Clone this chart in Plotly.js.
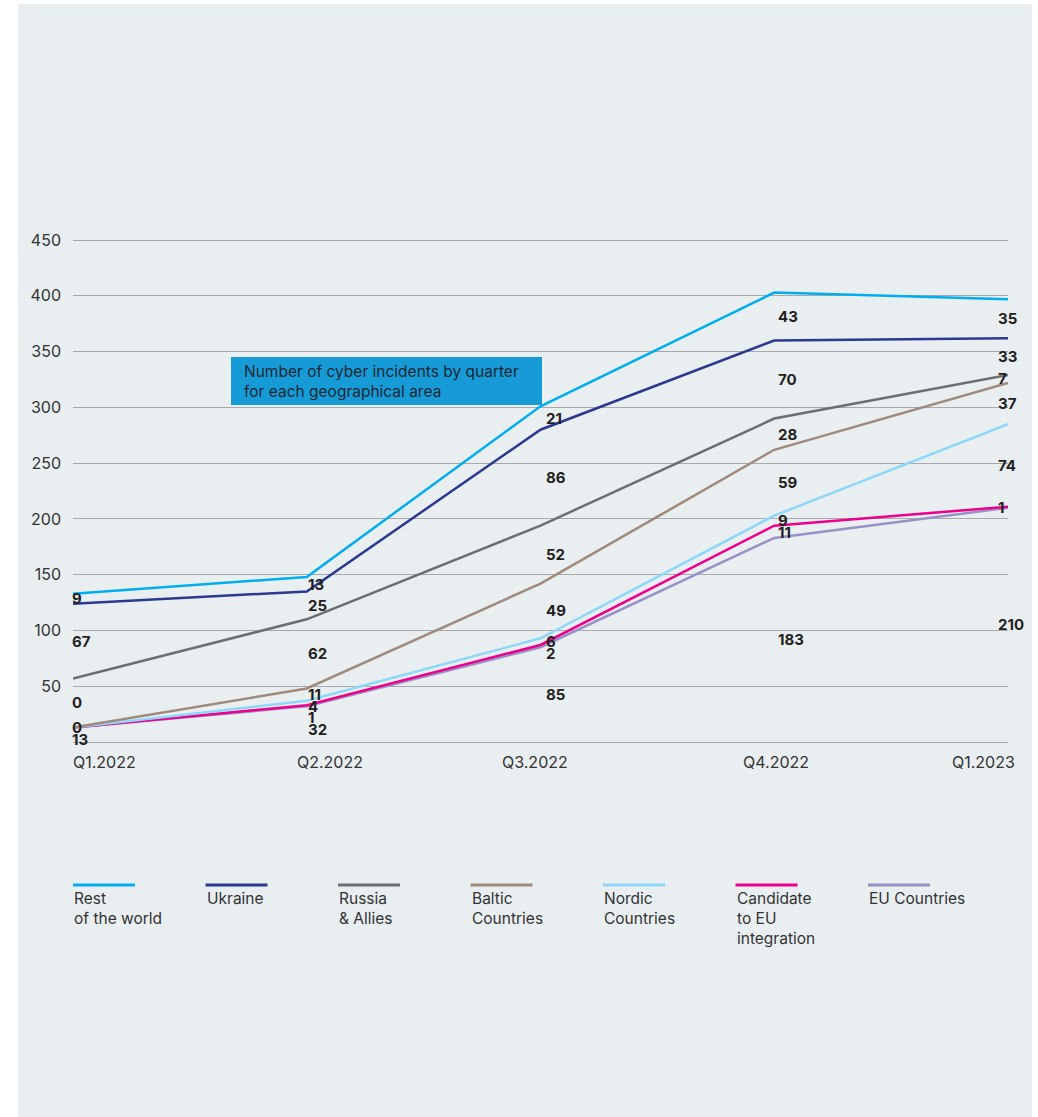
<!DOCTYPE html>
<html><head><meta charset="utf-8">
<script src="https://cdn.plot.ly/plotly-3.0.1.min.js"></script>
<style>
html,body{margin:0;padding:0;background:#ffffff;}
#panel{position:absolute;left:18px;top:4px;width:1014px;height:1113px;background:#e9eef1;}
#chart{position:absolute;left:0;top:0;width:1038px;height:1117px;}
</style></head><body>
<div id="panel"></div><div id="chart"></div>
<script>
// ---- data ----
const quarters = ['Q1.2022', 'Q2.2022', 'Q3.2022', 'Q4.2022', 'Q1.2023'];
const yTicks = [50, 100, 150, 200, 250, 300, 350, 400, 450];

// incidents per area and quarter (stacked bottom -> top)
const euCountries   = [13, 32, 85, 183, 210];
const candidateEU   = [0, 1, 2, 11, 1];
const nordic        = [0, 4, 6, 9, 74];
const baltic        = [0, 11, 49, 59, 37];
const russiaAllies  = [44, 62, 52, 28, 7];
const ukraine       = [67, 25, 86, 70, 33];
const restOfWorld   = [9, 13, 21, 43, 35];

const seriesNames = ['EU Countries', 'Candidate to EU integration', 'Nordic Countries',
  'Baltic Countries', 'Russia & Allies', 'Ukraine', 'Rest of the world'];
const legendOrder = ['Rest of the world', 'Ukraine', 'Russia & Allies', 'Baltic Countries',
  'Nordic Countries', 'Candidate to EU integration', 'EU Countries'];
const legendText = {
  'Rest of the world': 'Rest<br>of the world',
  'Ukraine': 'Ukraine',
  'Russia & Allies': 'Russia<br>&amp; Allies',
  'Baltic Countries': 'Baltic<br>Countries',
  'Nordic Countries': 'Nordic<br>Countries',
  'Candidate to EU integration': 'Candidate<br>to EU<br>integration',
  'EU Countries': 'EU Countries'
};
// labels as printed in the source (overrides / hidden overlapping labels)
const printedLabels = {'Russia & Allies': {0: '0'}};
const hiddenLabels = {'Nordic Countries': [0], 'Candidate to EU integration': [0]};
const chartTitle = 'Number of cyber incidents by quarter<br>for each geographical area';

// ---- styles ----
const seriesValues = [euCountries, candidateEU, nordic, baltic, russiaAllies, ukraine, restOfWorld];
const colors = {
  'Rest of the world': '#00aeef',
  'Ukraine': '#2b3990',
  'Russia & Allies': '#6d6e71',
  'Baltic Countries': '#a08a7c',
  'Nordic Countries': '#8dd8f8',
  'Candidate to EU integration': '#ec008c',
  'EU Countries': '#9891c6'
};
const FONT = 'Inter, "Open Sans", sans-serif';
const W = 1038, H = 1117;
const M = {l: 73, r: 30, t: 239, b: 375};
const plotW = W - M.l - M.r, plotH = H - M.t - M.b;
const yMax = 451;
const unitPx = plotH / yMax;
const px2paperX = px => (px - M.l) / plotW;
const px2paperY = py => (H - M.b - py) / plotH;

const xIdx = quarters.map((q, i) => i);

const traces = seriesNames.map((name, s) => ({
  type: 'scatter', mode: 'lines', name: name,
  x: xIdx, y: seriesValues[s], stackgroup: 'one', fill: 'none',
  line: {color: colors[name], width: 2.5, shape: 'linear'},
  hoverinfo: 'skip'
}));

const annotations = [];

// value labels: middle of each band, pushed down to avoid overlap
const minGap = 11.5 / unitPx;
const labelXShift = [-2, 0, 4, 3, -11];
quarters.forEach((q, i) => {
  let cum = 0;
  const mids = seriesValues.map(v => { const lo = cum; cum += v[i]; return (lo + cum) / 2; });
  let prev = Infinity;
  for (let s = seriesNames.length - 1; s >= 0; s--) {
    const name = seriesNames[s];
    if (hiddenLabels[name] && hiddenLabels[name].includes(i)) continue;
    let y = Math.min(mids[s], prev - minGap);
    prev = y;
    const txt = (printedLabels[name] && printedLabels[name][i] !== undefined) ? printedLabels[name][i] : String(seriesValues[s][i]);
    annotations.push({x: i, y: y, xref: 'x', yref: 'y', text: '<b>' + txt + '</b>',
      showarrow: false, xanchor: 'left', yanchor: 'middle', xshift: labelXShift[i],
      borderpad: 0,
      font: {family: FONT, size: 15, color: '#231f20'}});
  }
});

// x tick labels
const xLabelAnchor = ['left', 'center', 'center', 'center', 'right'];
const xLabelShift = [-2, 23, -6, 2, 9];
quarters.forEach((q, i) => {
  annotations.push({x: i, y: 0, xref: 'x', yref: 'paper', text: q, showarrow: false,
    xanchor: xLabelAnchor[i], yanchor: 'middle', yshift: -20, xshift: xLabelShift[i],
    font: {family: FONT, size: 16, color: '#333333'}});
});

const shapes = [];

// title box
shapes.push({type: 'rect', xref: 'paper', yref: 'paper', layer: 'below',
  x0: px2paperX(231), x1: px2paperX(542), y0: px2paperY(405), y1: px2paperY(357),
  fillcolor: '#169bd6', line: {width: 0}});
annotations.push({xref: 'paper', yref: 'paper', x: px2paperX(242), y: px2paperY(381),
  xanchor: 'left', yanchor: 'middle', text: chartTitle, showarrow: false, align: 'left',
  font: {family: FONT, size: 15.5, color: '#1d2733'}});

// legend
legendOrder.forEach((name, k) => {
  const x0 = 73 + k * 132.5;
  shapes.push({type: 'line', xref: 'paper', yref: 'paper',
    x0: px2paperX(x0), x1: px2paperX(x0 + 62), y0: px2paperY(885), y1: px2paperY(885),
    line: {color: colors[name], width: 3}});
  annotations.push({xref: 'paper', yref: 'paper', x: px2paperX(x0 - 1), y: px2paperY(887),
    xanchor: 'left', yanchor: 'top', align: 'left', showarrow: false, text: legendText[name],
    font: {family: FONT, size: 15.5, color: '#333333'}});
});

const layout = {
  width: W, height: H, margin: M,
  paper_bgcolor: 'rgba(0,0,0,0)', plot_bgcolor: 'rgba(0,0,0,0)',
  showlegend: false,
  font: {family: FONT, size: 15, color: '#333333'},
  xaxis: {range: [0, 4], showgrid: false, zeroline: false, showticklabels: false,
    showline: false, ticks: '', fixedrange: true},
  yaxis: {range: [0, yMax], tickvals: yTicks, ticktext: yTicks.map(String),
    showgrid: true, gridcolor: '#a7a9ac', gridwidth: 1,
    zeroline: true, zerolinecolor: '#a7a9ac', zerolinewidth: 1,
    ticks: '', ticklabelstandoff: 11, showline: false, fixedrange: true,
    tickfont: {family: FONT, size: 16, color: '#333333'}},
  annotations: annotations, shapes: shapes
};

Plotly.newPlot('chart', traces, layout, {displayModeBar: false, staticPlot: true});
</script>
</body></html>
